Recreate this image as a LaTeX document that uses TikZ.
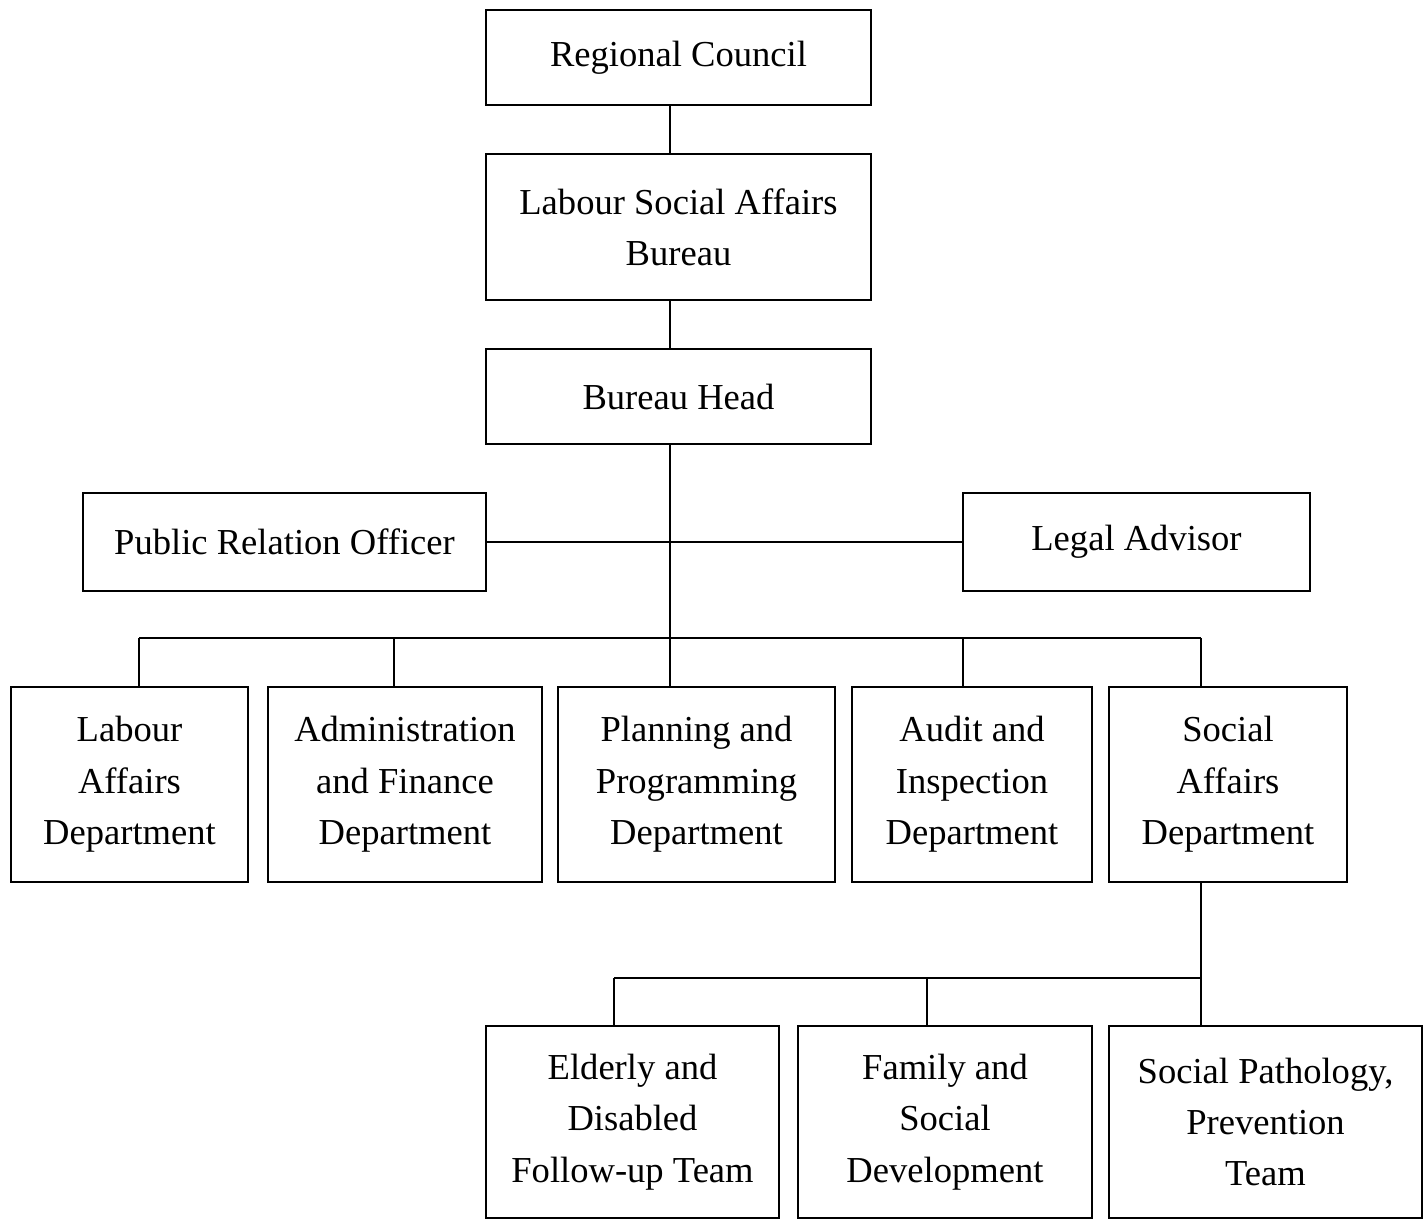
\documentclass[tikz,border=0pt]{standalone}
\usepackage{fontspec}
\setmainfont{Liberation Serif}
\usetikzlibrary{positioning}

\begin{document}
\begin{tikzpicture}[x=0.01cm,y=-0.01cm,
    box/.style={draw,line width=0.6pt,align=center,inner sep=0pt,
      font=\fontsize{10.4}{14.6}\selectfont},
    link/.style={line width=0.6pt}]
    \useasboundingbox (0,0) rectangle (1427,1220);

    % top of the chart
    \node[box,minimum width=3.85cm,minimum height=0.95cm] (rc) at (678.5,57.5) {Regional Council};
    \node[box,minimum width=3.85cm,minimum height=1.46cm] (lsab) at (678.5,227) {Labour Social Affairs\\Bureau};
    \node[box,minimum width=3.85cm,minimum height=0.95cm] (bh) at (678.5,396.5) {Bureau Head};
    \node[box,minimum width=4.03cm,minimum height=0.98cm] (pro) at (284.5,542) {Public Relation Officer};
    \node[box,minimum width=3.47cm,minimum height=0.98cm] (lega) at (1136.5,542) {Legal Advisor};

    % departments
    \node[box,minimum width=2.37cm,minimum height=1.95cm] (lad) at (129.5,784.5) {Labour\\Affairs\\Department};
    \node[box,minimum width=2.74cm,minimum height=1.95cm] (afd) at (405,784.5) {Administration\\and Finance\\Department};
    \node[box,minimum width=2.77cm,minimum height=1.95cm] (ppd) at (696.5,784.5) {Planning and\\Programming\\Department};
    \node[box,minimum width=2.40cm,minimum height=1.95cm] (aid) at (972,784.5) {Audit and\\Inspection\\Department};
    \node[box,minimum width=2.38cm,minimum height=1.95cm] (sad) at (1228,784.5) {Social\\Affairs\\Department};

    % teams
    \node[box,minimum width=2.93cm,minimum height=1.92cm] (edt) at (632.5,1122) {Elderly and\\Disabled\\Follow-up Team};
    \node[box,minimum width=2.94cm,minimum height=1.92cm] (fsd) at (945,1122) {Family and\\Social\\Development};
    \node[box,minimum width=3.13cm,minimum height=1.92cm] (spt) at (1265.5,1122) {Social Pathology,\\Prevention\\Team};

    % junction points
    \coordinate (bus) at (670,638);
    \coordinate (dlad) at (139,638);
    \coordinate (dafd) at (394,638);
    \coordinate (daid) at (963,638);
    \coordinate (dsad) at (1201,638);
    \coordinate (tbus) at (1201,978);
    \coordinate (dedt) at (614,978);
    \coordinate (dfsd) at (927,978);

    \draw[link] (rc.south -| bus) -- (lsab.north -| bus);
    \draw[link] (lsab.south -| bus) -- (bh.north -| bus);
    \draw[link] (bh.south -| bus) -- (bus);
    \draw[link] (pro.east) -- (lega.west);
    \draw[link] (dlad) -- (dsad);
    \draw[link] (dlad) -- (dlad |- lad.north);
    \draw[link] (dafd) -- (dafd |- afd.north);
    \draw[link] (bus) -- (bus |- ppd.north);
    \draw[link] (daid) -- (daid |- aid.north);
    \draw[link] (dsad) -- (dsad |- sad.north);

    \draw[link] (sad.south -| tbus) -- (tbus |- spt.north);
    \draw[link] (dedt) -- (tbus);
    \draw[link] (dedt) -- (dedt |- edt.north);
    \draw[link] (dfsd) -- (dfsd |- fsd.north);
  \end{tikzpicture}
\end{document}
